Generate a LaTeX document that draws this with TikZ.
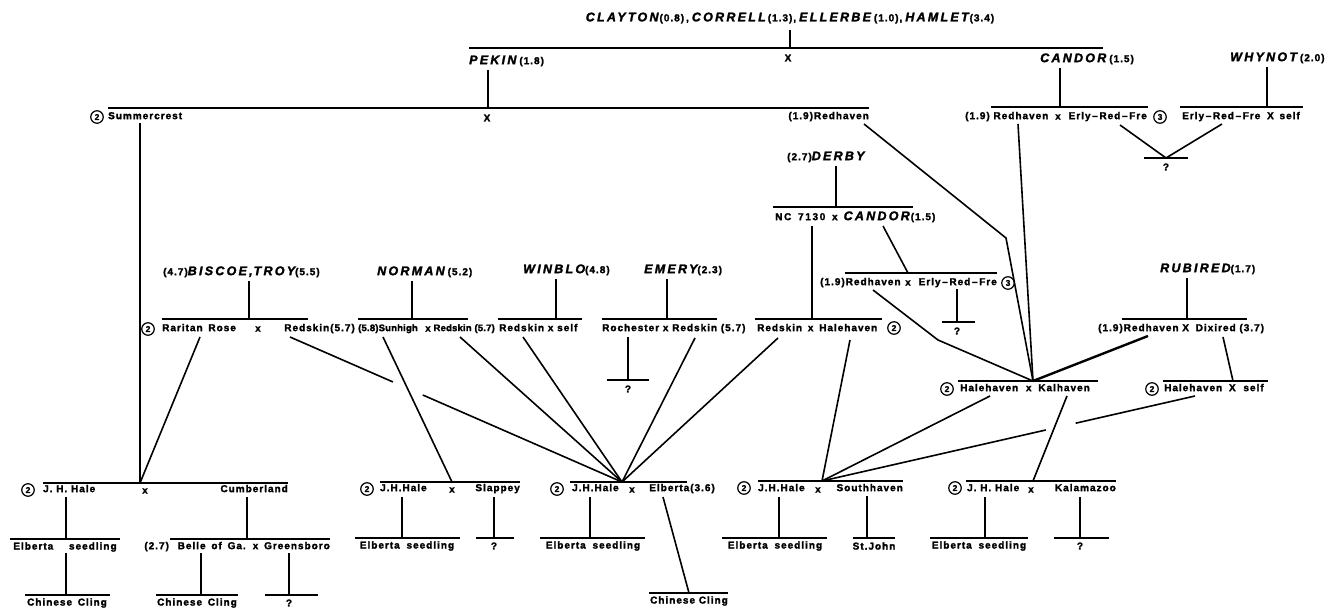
\documentclass[tikz,border=0pt]{standalone}
\usepackage{fontspec}
\newfontfamily\labfont{Liberation Sans}[UprightFont=* Bold, LetterSpace=10, FakeBold=2]
\newfontfamily\tightfont{Liberation Sans}[UprightFont=* Bold, LetterSpace=2, FakeBold=2]
\newfontfamily\namefont{Liberation Sans}[UprightFont=* Bold Italic, LetterSpace=18, FakeBold=2]
\newfontfamily\numfont{Liberation Sans}[UprightFont=* Bold, FakeBold=1]
\usetikzlibrary{calc}
\newcommand{\nm}[1]{{\namefont\fontsize{12.5}{13}\selectfont #1}}
\newcommand{\nv}[1]{{\labfont\fontsize{10}{10}\selectfont #1}}
\begin{document}
\begin{tikzpicture}[x=1pt,y=-1pt,
  lab/.style={font=\labfont\fontsize{10}{10}\selectfont, inner sep=0pt},
  tl/.style={font=\tightfont\fontsize{9.5}{10}\selectfont, inner sep=0pt},
  lw/.style={lab, anchor=mid west},
  le/.style={lab, anchor=mid east},
  ttl/.style={inner sep=0pt, anchor=mid west},
  hl/.style={line width=2.2pt},
  cn/.style={line width=1.6pt},
  cnb/.style={line width=2.4pt},
  num/.style={circle, draw, line width=1.2pt, minimum size=12.5pt, inner sep=0pt, font=\numfont\fontsize{8.5}{8.5}\selectfont},
]
\fill[white] (0,0) rectangle (1342,609);
\useasboundingbox (0,0) rectangle (1342,609);

% ---------------- title row
\node[inner sep=0pt] (title) at (790,18) {\nm{CLAYTON}\hspace{1pt}\nv{(0.8)}\hspace{2pt}\nv{,}\hspace{3pt}\nm{CORRELL}\hspace{2pt}\nv{(1.3),}\hspace{3pt}\nm{ELLERBE}\hspace{3pt}\nv{(1.0),}\hspace{3pt}\nm{HAMLET}\hspace{1pt}\nv{(3.4)}};
\coordinate (topt) at (790,30);
\coordinate (topb) at (790,48);
\draw[cn] (topt) -- (topb);
\coordinate (L1a) at (469,48); \coordinate (L1b) at (1103,48);
\draw[hl] (L1a) -- (L1b);
\node[lab] (x1) at (788,58) {X};
\node[ttl] (pekin) at (469,62) {\nm{PEKIN}\hspace{3pt}\nv{(1.8)}};
\coordinate (pkt) at (488,70); \coordinate (pkb) at (488,108);
\draw[cn] (pkt) -- (pkb);
\node[ttl] (candor) at (1040,60) {\nm{CANDOR}\hspace{3pt}\nv{(1.5)}};
\coordinate (cdt) at (1060,68); \coordinate (cdb) at (1060,107);
\draw[cn] (cdt) -- (cdb);
\node[ttl] (whynot) at (1230,59) {\nm{WHYNOT}\hspace{3pt}\nv{(2.0)}};
\coordinate (wnt) at (1267,67); \coordinate (wnb) at (1267,107);
\draw[cn] (wnt) -- (wnb);

% ---------------- row C
\coordinate (scL) at (108,108); \coordinate (scR) at (869,108);
\draw[hl] (scL) -- (scR);
\node[num] (c2a) at (97,117) {2};
\node[lw] (sc) at (108,117) {Summercrest};
\node[lab] (x2) at (487,118) {X};
\node[le] (rh1) at (869,117) {(1.9)Redhaven};

\coordinate (ccL) at (991,107); \coordinate (ccR) at (1148,107);
\draw[hl] (ccL) -- (ccR);
\node[lw] (cc1) at (965,117) {(1.9) Redhaven};
\node[lab] (ccx) at (1058,117) {x};
\node[le] (cc2) at (1147,117) {Erly\,–\,Red\,–\,Fre};
\node[num] (c3a) at (1160,117) {3};
\coordinate (wxL) at (1180,107); \coordinate (wxR) at (1303,107);
\draw[hl] (wxL) -- (wxR);
\node[lw] (wn1) at (1182,117) {Erly\,–\,Red\,–\,Fre};
\node[le] (wn2) at (1300,117) {X\hspace{2pt} self};
\coordinate (vL) at (1120,125); \coordinate (vR) at (1222,124); \coordinate (vA) at (1166,158);
\draw[cn] (vL) -- (vA) -- (vR);
\coordinate (q1L) at (1144,158); \coordinate (q1R) at (1188,158);
\draw[hl] (q1L) -- (q1R);
\node[lab] (q1) at (1166,167) {?};

% ---------------- row D (Derby)
\node[ttl] (derby) at (787,158) {\nv{(2.7)}\nm{DERBY}};
\coordinate (dbt) at (836,166); \coordinate (dbb) at (836,207);
\draw[cn] (dbt) -- (dbb);
\coordinate (ncL) at (773,207); \coordinate (ncR) at (913,207);
\draw[hl] (ncL) -- (ncR);
\node[ttl] (nc) at (775,218) {\nv{N\,C\hspace{3pt} 7\,1\,3\,0\hspace{3pt} x}\hspace{6pt}\nm{CANDOR}\hspace{1pt}\nv{(1.5)}};
\coordinate (nct) at (812,226); \coordinate (ncb) at (812,319);
\draw[cn] (nct) -- (ncb);
\coordinate (cd2) at (883,226); \coordinate (drA) at (908,273);
\draw[cn] (cd2) -- (drA);
\coordinate (drL) at (845,273); \coordinate (drR) at (997,273);
\draw[hl] (drL) -- (drR);
\node[lw] (dr1) at (820,283) {(1.9)Redhaven};
\node[lab] (drx) at (908,283) {x};
\node[le] (dr2) at (997,283) {Erly\,–\,Red\,–\,Fre};
\node[num] (c3b) at (1008,283) {3};
\coordinate (eft) at (957,289); \coordinate (efb) at (957,322);
\draw[cn] (eft) -- (efb);
\coordinate (q2L) at (942,322); \coordinate (q2R) at (975,322);
\draw[hl] (q2L) -- (q2R);
\node[lab] (q2) at (957,331) {?};

% ---------------- row E titles and crosses
\node[ttl] (biscoe) at (163,273) {\nv{(4.7)}\nm{BISCOE,\hspace{1pt}TROY}\nv{(5.5)}};
\coordinate (bit) at (249,281); \coordinate (bib) at (249,319);
\draw[cn] (bit) -- (bib);
\coordinate (biL) at (162,319); \coordinate (biR) at (308,319);
\draw[hl] (biL) -- (biR);
\node[ttl] (norman) at (377,273) {\nm{NORMAN}\hspace{3pt}\nv{(5.2)}};
\coordinate (not) at (412,281); \coordinate (nob) at (412,319);
\draw[cn] (not) -- (nob);
\coordinate (noL) at (358,319); \coordinate (noR) at (468,319);
\draw[hl] (noL) -- (noR);
\node[ttl] (winblo) at (523,271) {\nm{WINBLO}\nv{(4.8)}};
\coordinate (wbt) at (556,279); \coordinate (wbb) at (556,319);
\draw[cn] (wbt) -- (wbb);
\coordinate (wbL) at (498,319); \coordinate (wbR) at (582,319);
\draw[hl] (wbL) -- (wbR);
\node[ttl] (emery) at (644,271) {\nm{EMERY}\nv{(2.3)}};
\coordinate (emt) at (667,279); \coordinate (emb) at (667,319);
\draw[cn] (emt) -- (emb);
\coordinate (emL) at (602,319); \coordinate (emR) at (717,319);
\draw[hl] (emL) -- (emR);
\coordinate (rhL) at (755,319); \coordinate (rhR) at (882,319);
\draw[hl] (rhL) -- (rhR);
\node[ttl] (rubired) at (1160,270) {\nm{RUBIRED}\nv{(1.7)}};
\coordinate (rbt) at (1187,278); \coordinate (rbb) at (1187,319);
\draw[cn] (rbt) -- (rbb);
\coordinate (rbL) at (1122,319); \coordinate (rbR) at (1247,319);
\draw[hl] (rbL) -- (rbR);

\node[num] (c2b) at (148,329) {2};
\node[lw] (rr1) at (162,329) {Raritan\hspace{2pt} Rose};
\node[lab] (rrx) at (258,329) {x};
\node[le] (rr2) at (355,329) {Redskin(5.7)};
\node[tl, anchor=mid west] (sh1) at (358,329) {(5.8)Sunhigh};
\node[tl] (shx) at (428,329) {x};
\node[tl, anchor=mid east] (sh2) at (495,329) {Redskin (5.7)};
\node[lw] (ws) at (499,329) {Redskin x self};
\node[lw] (ro) at (602,329) {Rochester x Redskin (5.7)};
\node[lw] (rhx) at (757,329) {Redskin\hspace{2pt} x\hspace{2pt} Halehaven};
\node[num] (c2c) at (894,328) {2};
\node[lw] (rb) at (1098,329) {(1.9)Redhaven X\hspace{3pt} Dixired (3.7)};

\coordinate (rot) at (628,337); \coordinate (rob) at (628,380);
\draw[cn] (rot) -- (rob);
\coordinate (q3L) at (607,380); \coordinate (q3R) at (649,380);
\draw[hl] (q3L) -- (q3R);
\node[lab] (q3) at (628,389) {?};

% ---------------- row F
\coordinate (hkL) at (958,381); \coordinate (hkR) at (1098,381);
\draw[hl] (hkL) -- (hkR);
\node[num] (c2d) at (947,389) {2};
\node[lw] (hk) at (960,389) {Halehaven\hspace{4pt} x\hspace{3pt} Kalhaven};
\coordinate (hsL) at (1163,381); \coordinate (hsR) at (1268,381);
\draw[hl] (hsL) -- (hsR);
\node[num] (c2e) at (1152,389) {2};
\node[lw] (hs) at (1164,389) {Halehaven\hspace{3pt} X\hspace{4pt} self};
\coordinate (hkA) at (1033,381);
\coordinate (dxA) at (1233,381);

% ---------------- row G (J. H. Hale crosses)
\coordinate (g1L) at (43,483); \coordinate (g1R) at (288,483);
\draw[hl] (g1L) -- (g1R);
\node[num] (c2f) at (28,490) {2};
\node[lw] (jh1) at (43,490) {J. H. Hale};
\node[lab] (x3) at (145,491) {x};
\node[le] (cum) at (288,490) {Cumberland};
\coordinate (jhA) at (140,483);

\coordinate (g2L) at (380,482); \coordinate (g2R) at (520,482);
\draw[hl] (g2L) -- (g2R);
\node[num] (c2g) at (367,489) {2};
\node[lw] (jh2) at (380,489) {J.H.Hale};
\node[lab] (x4) at (452,490) {x};
\node[le] (slp) at (520,489) {Slappey};
\coordinate (slA) at (452,482);

\coordinate (g3L) at (570,482); \coordinate (g3R) at (687,482);
\draw[hl] (g3L) -- (g3R);
\node[num] (c2h) at (557,489) {2};
\node[lw] (jh3) at (572,489) {J.H.Hale};
\node[lab] (x5) at (632,490) {x};
\node[le] (elb) at (715,489) {Elberta(3.6)};
\coordinate (elA) at (622,482);

\coordinate (g4L) at (758,481); \coordinate (g4R) at (903,481);
\draw[hl] (g4L) -- (g4R);
\node[num] (c2i) at (744,488) {2};
\node[lw] (jh4) at (758,489) {J.H.Hale};
\node[lab] (x6) at (818,490) {x};
\node[le] (shv) at (903,489) {Southhaven};
\coordinate (shA) at (822,481);

\coordinate (g5L) at (966,481); \coordinate (g5R) at (1116,481);
\draw[hl] (g5L) -- (g5R);
\node[num] (c2j) at (955,488) {2};
\node[lw] (jh5) at (967,489) {J. H. Hale};
\node[lab] (x7) at (1031,490) {x};
\node[le] (kz) at (1116,489) {Kalamazoo};
\coordinate (kzA) at (1033,481);

% ---------------- row H
\coordinate (h1t) at (66,497); \coordinate (h1b) at (66,539);
\draw[cn] (h1t) -- (h1b);
\coordinate (h1L) at (10,539); \coordinate (h1R) at (120,539);
\draw[hl] (h1L) -- (h1R);
\node[lab] (es1) at (65,547) {Elberta\hspace{12pt} seedling};
\coordinate (h2t) at (247,497); \coordinate (h2b) at (247,539);
\draw[cn] (h2t) -- (h2b);
\coordinate (h2L) at (170,539); \coordinate (h2R) at (330,539);
\draw[hl] (h2L) -- (h2R);
\node[le] (bel) at (330,547) {(2.7)\hspace{5pt} Belle\hspace{2pt} of\hspace{2pt} Ga.\hspace{2pt} x\hspace{2pt} Greensboro};

\coordinate (h3t) at (402,497); \coordinate (h3b) at (402,538);
\draw[cn] (h3t) -- (h3b);
\coordinate (h3L) at (355,538); \coordinate (h3R) at (460,538);
\draw[hl] (h3L) -- (h3R);
\node[lab] (es2) at (407,546) {Elberta\hspace{3pt} seedling};
\coordinate (h4t) at (494,497); \coordinate (h4b) at (494,538);
\draw[cn] (h4t) -- (h4b);
\coordinate (h4L) at (476,538); \coordinate (h4R) at (514,538);
\draw[hl] (h4L) -- (h4R);
\node[lab] (q4) at (494,546) {?};

\coordinate (h5t) at (590,497); \coordinate (h5b) at (590,538);
\draw[cn] (h5t) -- (h5b);
\coordinate (h5L) at (540,538); \coordinate (h5R) at (645,538);
\draw[hl] (h5L) -- (h5R);
\node[lab] (es3) at (593,546) {Elberta\hspace{3pt} seedling};
\coordinate (elt) at (663,497); \coordinate (elb2) at (689,593);
\draw[cn] (elt) -- (elb2);
\coordinate (h6L) at (649,593); \coordinate (h6R) at (728,593);
\draw[hl] (h6L) -- (h6R);
\node[lab] (cc3) at (689,601) {Chinese Cling};

\coordinate (h7t) at (779,497); \coordinate (h7b) at (779,538);
\draw[cn] (h7t) -- (h7b);
\coordinate (h7L) at (722,538); \coordinate (h7R) at (827,538);
\draw[hl] (h7L) -- (h7R);
\node[lab] (es4) at (775,546) {Elberta\hspace{3pt} seedling};
\coordinate (h8t) at (867,496); \coordinate (h8b) at (867,538);
\draw[cn] (h8t) -- (h8b);
\coordinate (h8L) at (853,538); \coordinate (h8R) at (895,538);
\draw[hl] (h8L) -- (h8R);
\node[lab] (stj) at (874,546) {St.John};

\coordinate (h9t) at (985,497); \coordinate (h9b) at (985,538);
\draw[cn] (h9t) -- (h9b);
\coordinate (h9L) at (930,538); \coordinate (h9R) at (1028,538);
\draw[hl] (h9L) -- (h9R);
\node[lab] (es5) at (979,546) {Elberta\hspace{3pt} seedling};
\coordinate (h10t) at (1080,497); \coordinate (h10b) at (1080,538);
\draw[cn] (h10t) -- (h10b);
\coordinate (h10L) at (1054,538); \coordinate (h10R) at (1109,538);
\draw[hl] (h10L) -- (h10R);
\node[lab] (q5) at (1080,546) {?};

% ---------------- row I
\coordinate (i1t) at (66,553); \coordinate (i1b) at (66,595);
\draw[cn] (i1t) -- (i1b);
\coordinate (i1L) at (25,595); \coordinate (i1R) at (110,595);
\draw[hl] (i1L) -- (i1R);
\node[lab] (cc1) at (67,603) {Chinese\hspace{2pt} Cling};
\coordinate (i2t) at (201,553); \coordinate (i2b) at (201,595);
\draw[cn] (i2t) -- (i2b);
\coordinate (i2L) at (156,595); \coordinate (i2R) at (238,595);
\draw[hl] (i2L) -- (i2R);
\node[lab] (cc2) at (197,603) {Chinese\hspace{2pt} Cling};
\coordinate (i3t) at (289,553); \coordinate (i3b) at (289,595);
\draw[cn] (i3t) -- (i3b);
\coordinate (i3L) at (265,595); \coordinate (i3R) at (318,595);
\draw[hl] (i3L) -- (i3R);
\node[lab] (q6) at (289,603) {?};

% ---------------- long connectors
\coordinate (scv) at (140,123);
\draw[cn] (scv) -- (jhA);
\coordinate (rrb) at (200,337);
\draw[cn] (rrb) -- (jhA);
\coordinate (rs1) at (290,337);
\draw[cn] (rs1) -- ($(rs1)!0.31!(elA)$);
\draw[cn] ($(rs1)!0.40!(elA)$) -- (elA);
\coordinate (shb) at (383,337);
\draw[cn] (shb) -- (slA);
\coordinate (rs2) at (460,337);
\draw[cn] (rs2) -- (elA);
\coordinate (rs3) at (523,337);
\draw[cn] (rs3) -- (elA);
\coordinate (rs4) at (695,338);
\draw[cn] (rs4) -- (elA);
\coordinate (rs5) at (778,338);
\draw[cn] (rs5) -- (elA);
\coordinate (hv1) at (850,340);
\draw[cn] (hv1) -- (shA);
\coordinate (hv2) at (990,396);
\draw[cn] (hv2) -- (shA);
\coordinate (kh) at (1067,396);
\draw[cn] (kh) -- (kzA);
\coordinate (hv3) at (1195,396);
\draw[cn] (hv3) -- ($(hv3)!0.32!(shA)$);
\draw[cn] ($(hv3)!0.40!(shA)$) -- (shA);
% Redhaven lines into Halehaven x Kalhaven
\coordinate (rd1) at (864,124); \coordinate (rd1m) at (1006,238);
\draw[cn] (rd1) -- (rd1m) -- (hkA);
\coordinate (rd2) at (1018,124);
\draw[cn] (rd2) -- (hkA);
\coordinate (rd3) at (873,290); \coordinate (rd3m) at (938,340);
\draw[cn] (rd3) -- (rd3m) -- (hkA);
\coordinate (rd4) at (1148,336);
\draw[cnb] (rd4) -- (hkA);
\coordinate (dxt) at (1223,337);
\draw[cn] (dxt) -- (dxA);
\end{tikzpicture}
\end{document}
